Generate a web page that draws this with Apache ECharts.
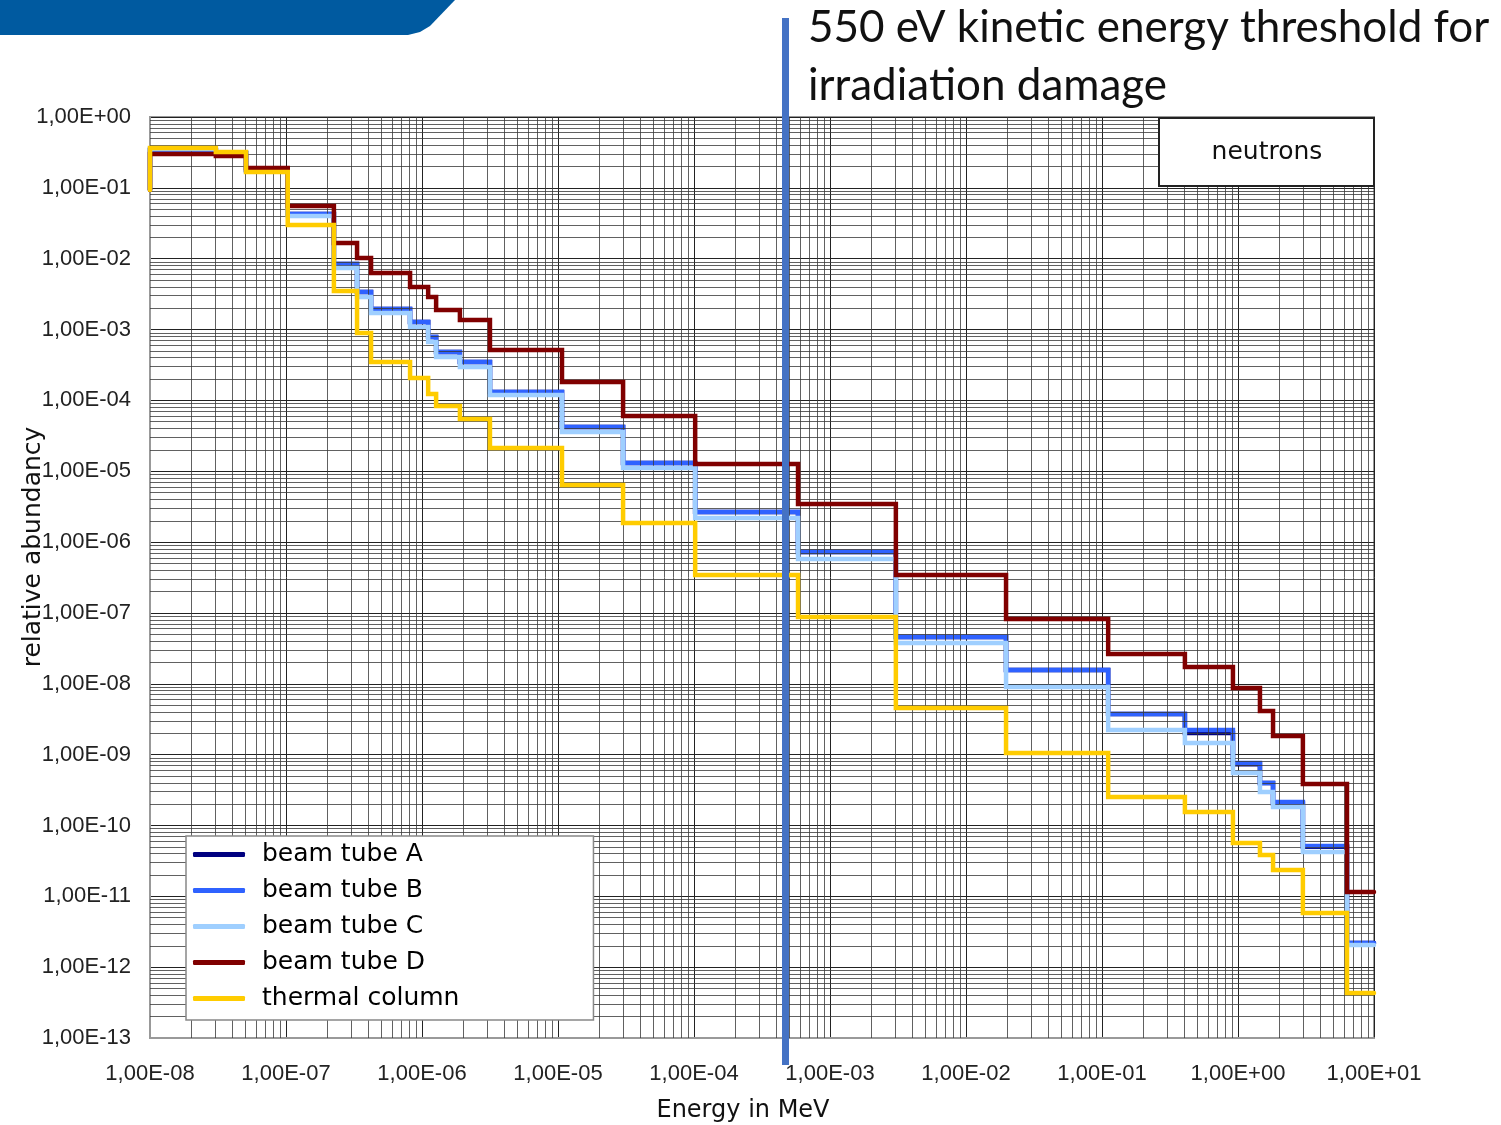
<!DOCTYPE html>
<html><head><meta charset="utf-8">
<script src="https://cdn.jsdelivr.net/npm/echarts@6/dist/echarts.min.js"></script>
<style>html,body{margin:0;padding:0;background:#fff}#c{width:1501px;height:1125px}</style>
</head><body><div id="c"></div>
<script>
// ---- data (energy in MeV, relative abundancy) ----
const energyEdges = [1e-8, 3.05e-8, 5.08e-8, 1.03e-7, 2.25e-7, 3.33e-7, 4.22e-7, 8.17e-7, 1.11e-6, 1.27e-6,
  1.90e-6, 3.16e-6, 1.07e-5, 3.01e-5, 1.02e-4, 5.82e-4, 3.05e-3, 1.97e-2, 0.111, 0.407,
  0.918, 1.45, 1.81, 3.0, 6.33, 10];
const startLevel = 0.093;
const beamTubeA = [0.342, 0.310, 0.179, 0.0428, 0.00841, 0.00339, 0.00195, 0.00128, 7.85e-4, 4.82e-4,
  3.48e-4, 1.31e-4, 4.21e-5, 1.31e-5, 2.66e-6, 7.25e-7, 4.58e-8, 1.57e-8, 3.75e-9, 2.02e-9,
  7.3e-10, 3.98e-10, 2.05e-10, 5.0e-11, 2.20e-12];
const beamTubeB = [0.342, 0.310, 0.179, 0.0428, 0.00841, 0.00339, 0.00195, 0.00128, 7.85e-4, 4.82e-4,
  3.48e-4, 1.31e-4, 4.21e-5, 1.31e-5, 2.66e-6, 7.25e-7, 4.58e-8, 1.57e-8, 3.75e-9, 2.23e-9,
  7.62e-10, 3.98e-10, 2.15e-10, 5.14e-11, 2.20e-12];
const beamTubeC = [0.353, 0.301, 0.173, 0.0401, 0.00739, 0.00288, 0.00171, 0.00109, 6.67e-4, 4.10e-4,
  2.96e-4, 1.19e-4, 3.58e-5, 1.11e-5, 2.19e-6, 5.78e-7, 3.77e-8, 9.02e-9, 2.23e-9, 1.46e-9,
  5.51e-10, 2.97e-10, 1.82e-10, 4.23e-11, 2.06e-12];
const beamTubeD = [0.301, 0.282, 0.191, 0.0555, 0.0167, 0.0102, 0.00628, 0.00399, 0.00288, 0.00189,
  0.00136, 5.14e-4, 1.82e-4, 6.02e-5, 1.27e-5, 3.45e-6, 3.43e-7, 8.22e-8, 2.64e-8, 1.73e-8,
  8.72e-9, 4.13e-9, 1.83e-9, 3.85e-10, 1.15e-11];
const thermalColumn = [0.365, 0.321, 0.167, 0.0299, 0.00350, 8.93e-4, 3.48e-4, 2.07e-4, 1.23e-4, 8.33e-5,
  5.46e-5, 2.13e-5, 6.40e-6, 1.86e-6, 3.43e-7, 8.78e-8, 4.55e-9, 1.05e-9, 2.52e-10, 1.55e-10,
  5.67e-11, 3.84e-11, 2.36e-11, 5.82e-12, 4.32e-13];
const seriesNames = ['beam tube A', 'beam tube B', 'beam tube C', 'beam tube D', 'thermal column'];
const xTickLabels = ['1,00E-08','1,00E-07','1,00E-06','1,00E-05','1,00E-04','1,00E-03','1,00E-02','1,00E-01','1,00E+00','1,00E+01'];
const yTickLabels = ['1,00E-13','1,00E-12','1,00E-11','1,00E-10','1,00E-09','1,00E-08','1,00E-07','1,00E-06','1,00E-05','1,00E-04','1,00E-03','1,00E-02','1,00E-01','1,00E+00'];
const thresholdText = ['550 eV kinetic energy threshold for', 'irradiation damage'];
const xTitle = 'Energy in MeV';
const yTitle = 'relative abundancy';
const boxTitle = 'neutrons';

// ---- build ----
function steps(vals) {
  const d = [[energyEdges[0], startLevel]];
  vals.forEach((v, i) => d.push([energyEdges[i], v]));
  d.push([energyEdges[energyEdges.length - 1], vals[vals.length - 1]]);
  return d;
}
const allVals = [beamTubeA, beamTubeB, beamTubeC, beamTubeD, thermalColumn];
const colors = ['#000080', '#2f62ff', '#9fcfff', '#800000', '#ffcc00'];

const X_MIN = 1e-8, X_MAX = 10, Y_MIN = 1e-13, Y_MAX = 1;
const gridLines = [];
for (let e = -8; e <= 0; e++) for (let k = 2; k <= 9; k++) {
  const v = k * Math.pow(10, e);
  gridLines.push([{ coord: [v, Y_MIN] }, { coord: [v, Y_MAX] }]);
}
for (let e = -13; e <= -1; e++) for (let k = 2; k <= 9; k++) {
  const v = k * Math.pow(10, e);
  gridLines.push([{ coord: [X_MIN, v] }, { coord: [X_MAX, v] }]);
}

const series = [{
  type: 'line', name: '_grid', data: [], z: 1, silent: true, animation: false,
  markLine: {
    silent: true, animation: false, symbol: ['none', 'none'], label: { show: false }, precision: 20,
    lineStyle: { color: '#3a3a3a', width: 1, type: 'solid', opacity: 0.8 },
    data: gridLines
  }
}];
allVals.forEach((vals, i) => {
  series.push({
    type: 'line', name: seriesNames[i], step: 'end', showSymbol: false, symbol: 'none',
    data: steps(vals), z: 3 + i, animation: false,
    lineStyle: { color: colors[i], width: 4.5, cap: 'round', join: 'miter' },
    itemStyle: { color: colors[i] }
  });
});

const chart = echarts.init(document.getElementById('c'), null, { renderer: 'canvas' });
const labelFont = { fontFamily: 'Liberation Sans', fontSize: 22, color: '#222' };
chart.setOption({
  backgroundColor: '#fff',
  animation: false,
  grid: { left: 150, top: 117, width: 1224, height: 921, show: true, borderColor: '#999', borderWidth: 2,
          backgroundColor: '#fff', containLabel: false, outerBoundsMode: 'none' },
  xAxis: {
    type: 'log', logBase: 10, min: X_MIN, max: X_MAX, interval: 1,
    axisLine: { show: true, lineStyle: { color: '#999', width: 2 } },
    axisTick: { show: false },
    splitLine: { show: true, lineStyle: { color: '#222', width: 1 } },
    axisLabel: Object.assign({ margin: 25, formatter: v => xTickLabels[Math.round(Math.log10(v)) + 8] }, labelFont)
  },
  yAxis: {
    type: 'log', logBase: 10, min: Y_MIN, max: Y_MAX, interval: 1,
    axisLine: { show: true, lineStyle: { color: '#999', width: 2 } },
    axisTick: { show: false },
    splitLine: { show: true, lineStyle: { color: '#222', width: 1 } },
    axisLabel: Object.assign({ margin: 19, formatter: v => yTickLabels[Math.round(Math.log10(v)) + 13] }, labelFont)
  },
  legend: {
    data: seriesNames, orient: 'vertical', left: 186, top: 836,
    icon: 'roundRect', itemWidth: 52, itemHeight: 5, itemGap: 11,
    padding: [6, 134, 9, 7],
    backgroundColor: '#fff', borderColor: '#888', borderWidth: 1.5, borderRadius: 0,
    textStyle: { fontFamily: 'DejaVu Sans', fontSize: 25, color: '#000', padding: [0, 0, 0, 12] },
    z: 20
  },
  series: series,
  graphic: [
    { type: 'polygon', shape: { points: [[0, 0], [455, 0], [430, 26], [420, 32], [408, 35], [0, 35]] },
      style: { fill: '#005aa0' }, z: 50 },
    { type: 'rect', shape: { x: 1159, y: 118, width: 215, height: 68 },
      style: { fill: '#fff', stroke: '#222', lineWidth: 2 }, z: 40 },
    { type: 'text', x: 1267, y: 152, style: { text: boxTitle, font: '500 25px "DejaVu Sans"', fill: '#111',
      textAlign: 'center', textVerticalAlign: 'middle' }, z: 41 },
    { type: 'rect', shape: { x: 782, y: 18, width: 7, height: 1047 }, style: { fill: '#4472c4' }, z: 60 },
    { type: 'text', x: 808, y: 28, style: { text: thresholdText[0], font: '44px Lato', fill: '#111',
      textVerticalAlign: 'middle' }, z: 60 },
    { type: 'text', x: 808, y: 86, style: { text: thresholdText[1], font: '44px Lato', fill: '#111',
      textVerticalAlign: 'middle' }, z: 60 },
    { type: 'text', x: 743, y: 1111, style: { text: xTitle, font: '24px "DejaVu Sans"', fill: '#111',
      textAlign: 'center', textVerticalAlign: 'middle' }, z: 60 },
    { type: 'text', x: 33, y: 547, rotation: Math.PI / 2, style: { text: yTitle, font: '25px "DejaVu Sans"', fill: '#111',
      textAlign: 'center', textVerticalAlign: 'middle' }, z: 60 }
  ]
});
</script></body></html>
